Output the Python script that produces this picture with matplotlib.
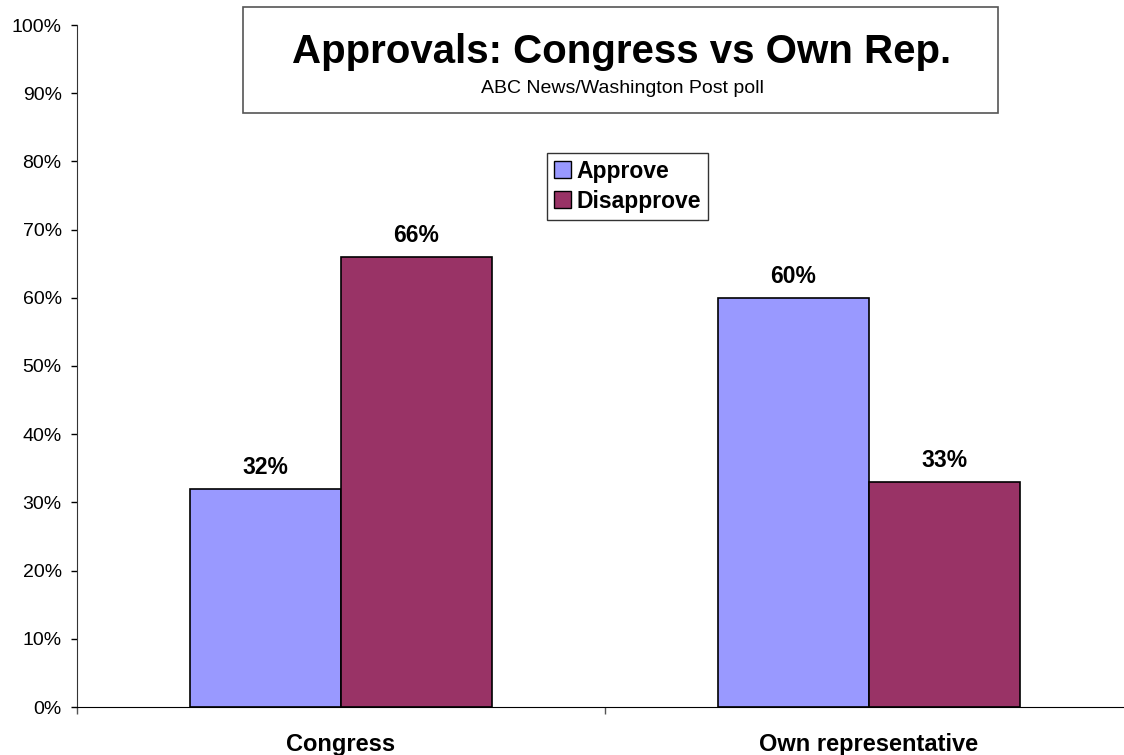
import matplotlib
matplotlib.use("Agg")
import matplotlib.pyplot as plt
from matplotlib.patches import Rectangle, Patch
from matplotlib.ticker import FuncFormatter, FixedLocator
import numpy as np

categories = ["Congress", "Own representative"]
series_names = ["Approve", "Disapprove"]
approve = [0.32, 0.60]
disapprove = [0.66, 0.33]
colors = ["#9999FF", "#993366"]
title = "Approvals: Congress vs Own Rep."
subtitle = "ABC News/Washington Post poll"

plt.rcParams['font.family'] = ['Liberation Sans', 'DejaVu Sans']

fig = plt.figure(figsize=(11.24, 7.55), dpi=100)
ax = fig.add_axes([77/1124, 1-707/755, (1133-77)/1124, (707-25)/755])

x = np.arange(len(categories))
w = 0.286
b1 = ax.bar(x - w/2, approve, w, color=colors[0], edgecolor="black", linewidth=1.2, label=series_names[0])
b2 = ax.bar(x + w/2, disapprove, w, color=colors[1], edgecolor="black", linewidth=1.2, label=series_names[1])

fmt = lambda v: f"{v*100:.0f}%"
for bars in (b1, b2):
    ax.bar_label(bars, labels=[fmt(v) for v in bars.datavalues], padding=7,
                 fontsize=16.5, fontweight="bold")

ax.set_xlim(-0.5, len(categories) - 0.5)
ax.set_ylim(0, 1)
ax.set_yticks(np.arange(0, 1.01, 0.1))
ax.yaxis.set_major_formatter(FuncFormatter(lambda v, p: f"{v*100:.0f}%"))
ax.tick_params(axis="y", direction="out", length=4, width=1, pad=7, labelsize=14)

ax.set_xticks(x)
ax.set_xticklabels(categories, fontsize=17, fontweight="bold")
ax.tick_params(axis="x", which="major", length=0, pad=19)
ax.xaxis.set_minor_locator(FixedLocator(np.arange(-0.5, len(categories), 1.0)))
ax.tick_params(axis="x", which="minor", direction="out", length=5, width=1, color="#555555")

for s in ("top", "right"):
    ax.spines[s].set_visible(False)
ax.spines["left"].set_color("#333333")
ax.spines["bottom"].set_color("black")

# Title box
fig.patches.append(Rectangle((243/1124, 1-113/755), (998-243)/1124, (113-7)/755,
                             transform=fig.transFigure, facecolor="white",
                             edgecolor="#555555", linewidth=1.2))
fig.text(622/1124, 1-63/755, title, ha="center", va="baseline", fontsize=29, fontweight="bold")
fig.text(622/1124, 1-93/755, subtitle, ha="center", va="baseline", fontsize=14)

handles = [Patch(facecolor=colors[0], edgecolor="black", label=series_names[0]),
           Patch(facecolor=colors[1], edgecolor="black", label=series_names[1])]
leg = ax.legend(handles=handles, loc="upper left", bbox_to_anchor=(547/1124, 1-153/755),
                bbox_transform=fig.transFigure, frameon=True, fancybox=False,
                edgecolor="black", prop={"weight": "bold", "size": 16.5},
                handlelength=0.75, handleheight=0.75, handletextpad=0.25,
                borderpad=0.3, labelspacing=0.3, borderaxespad=0)
leg.get_frame().set_linewidth(1.0)

fig.savefig("out.png", dpi=100)
